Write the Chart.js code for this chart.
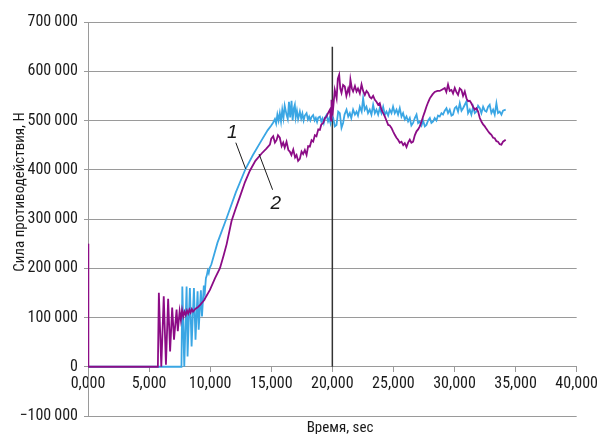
<!DOCTYPE html>
<html>
<head>
<meta charset="utf-8">
<script src="https://cdn.jsdelivr.net/npm/chart.js@4.4.1/dist/chart.umd.min.js"></script>
<style>
  html, body { margin: 0; padding: 0; background: #fff; }
</style>
</head>
<body>
<canvas id="chart" width="601" height="434"></canvas>
<script>
// Подписи осей
const xTickLabels = ['0,000', '5,000', '10,000', '15,000', '20,000', '25,000', '30,000', '35,000', '40,000'];
const yTickLabels = ['\u2212100\u2009000', '0', '100\u2009000', '200\u2009000', '300\u2009000', '400\u2009000', '500\u2009000', '600\u2009000', '700\u2009000'];

// Кривая 1 (голубая)
const time1 = [0, 7650, 7720, 7880, 8070, 8150, 8340, 8480, 8670, 8800, 8970, 9060, 9240, 9330, 9480, 9560, 9650, 9720, 9800, 9880, 9950,
  10100, 10600, 11350, 12100, 12900, 13500, 14070, 14700, 15000, 15160, 15300, 15400, 15500, 15600, 15700, 15800, 15900,
  16000, 16100, 16250, 16350, 16450, 16550, 16660, 16750, 16850, 16930, 17000, 17100, 17200, 17340, 17450, 17550, 17650, 17750, 17890,
  18000, 18100, 18200, 18300, 18430, 18550, 18650, 18750, 18850, 18980, 19100, 19200, 19300, 19400, 19520, 19650, 19750, 19850, 19950,
  20070, 20200, 20340, 20480, 20610, 20750, 20880, 21000, 21160, 21300, 21430, 21550, 21700, 21850, 21980, 22100, 22250, 22400, 22520,
  22650, 22790, 22920, 23060, 23200, 23340, 23480, 23610, 23750, 23880, 24020, 24160, 24300, 24430, 24570, 24700, 24840, 24970, 25110,
  25250, 25380, 25520, 25660, 25790, 25930, 26070, 26200, 26340, 26470, 26610, 26750, 26890, 27020, 27160, 27300, 27430, 27570, 27700,
  27840, 27980, 28110, 28250, 28380, 28520, 28650, 28790, 28930, 29060, 29200, 29340, 29470, 29610, 29750, 29880, 30020, 30150, 30290,
  30430, 30570, 30700, 30840, 30980, 31110, 31250, 31380, 31520, 31660, 31790, 31930, 32070, 32200, 32340, 32480, 32610, 32750, 32880,
  33020, 33160, 33290, 33430, 33560, 33700, 33840, 33970, 34190];
const force1 = [0, 0, 163000, 0, 163000, 21000, 160000, 41000, 160000, 55000, 153000, 75000, 155000, 102000, 165000, 150000, 180000, 185000, 195000, 190000, 200000,
  208000, 252000, 302000, 354000, 402000, 430000, 454000, 480000, 490000, 496000, 503000, 494000, 512000, 500000, 515000, 498000, 522000,
  505000, 530000, 512000, 503000, 538000, 506000, 540000, 500000, 525000, 532000, 506000, 520000, 503000, 518000, 504000, 514000, 500000, 510000, 515000,
  502000, 508000, 500000, 507000, 511000, 500000, 505000, 497000, 506000, 508000, 498000, 504000, 495000, 506000, 511000, 498000, 505000, 495000, 510000,
  505000, 488000, 491000, 518000, 515000, 485000, 495000, 512000, 522000, 508000, 515000, 505000, 522000, 512000, 518000, 510000, 528000, 518000, 545000,
  522000, 528000, 515000, 522000, 512000, 532000, 515000, 522000, 512000, 525000, 515000, 528000, 512000, 518000, 510000, 522000, 515000, 528000, 515000,
  522000, 512000, 525000, 508000, 515000, 502000, 508000, 498000, 505000, 490000, 495000, 505000, 512000, 495000, 498000, 490000, 500000, 488000, 491000,
  500000, 505000, 495000, 498000, 505000, 500000, 510000, 508000, 515000, 512000, 520000, 525000, 515000, 522000, 510000, 512000, 525000, 528000, 518000,
  535000, 520000, 525000, 532000, 539000, 515000, 522000, 512000, 528000, 515000, 518000, 530000, 525000, 515000, 528000, 520000, 518000, 528000, 532000,
  515000, 522000, 512000, 535000, 515000, 518000, 512000, 520000, 522000];

// Кривая 2 (фиолетовая)
const time2 = [0, 30, 5720, 5800, 6000, 6200, 6380, 6560, 6720, 6890, 7040, 7250, 7350, 7500, 7600, 7700, 7800, 7900, 8000, 8100, 8200, 8300, 8400, 8500, 8600, 8800,
  9000, 9200, 9500, 9980, 10400, 10800, 11100, 11350, 11750, 12100, 12430, 12850, 13250, 13700, 14210, 14600, 14890, 15000, 15160, 15300, 15430, 15550, 15700, 15850, 15980,
  16100, 16250, 16400, 16520, 16650, 16800, 16950, 17070, 17200, 17340, 17480, 17610, 17750, 17890, 18020, 18160, 18300, 18430, 18570, 18700, 18850, 18980,
  19100, 19250, 19400, 19520, 19650, 19800, 19900, 19930, 20050, 20200, 20350, 20450, 20560, 20650, 20750, 20880, 21020, 21150, 21300, 21400, 21480, 21600,
  21700, 21850, 21980, 22100, 22250, 22390, 22520, 22660, 22800, 22930, 23060, 23200, 23340, 23480, 23610, 23750, 23880, 24020, 24160, 24300, 24430, 24570,
  24700, 24840, 24970, 25110, 25250, 25380, 25520, 25660, 25800, 25930, 26070, 26200, 26340, 26470, 26610, 26750, 26890, 27020, 27160, 27300, 27430, 27570,
  27700, 27840, 27980, 28200, 28380, 28600, 28790, 29000, 29200, 29330, 29470, 29610, 29750, 29880, 30020, 30150, 30290, 30430, 30570, 30700, 30840, 30980,
  31110, 31250, 31380, 31520, 31660, 31790, 31930, 32070, 32200, 32340, 32480, 32610, 32750, 32880, 33020, 33160, 33290, 33430, 33560, 33700, 33840, 33970, 34190];
const force2 = [250000, 0, 0, 150000, 0, 143000, 4000, 138000, 31000, 120000, 55000, 116000, 72000, 113000, 95000, 115000, 102000, 112000, 105000, 114000, 108000, 116000, 110000, 117000, 112000, 118000,
  121000, 126000, 135000, 156000, 180000, 200000, 226000, 249000, 296000, 322000, 345000, 375000, 398000, 418000, 433000, 443000, 451000, 463000, 468000, 455000, 460000, 470000, 465000, 448000, 455000,
  445000, 457000, 440000, 437000, 430000, 441000, 425000, 430000, 418000, 422000, 437000, 432000, 440000, 430000, 448000, 447000, 460000, 457000, 470000, 468000, 482000, 481000,
  492000, 495000, 505000, 508000, 515000, 522000, 500000, 542000, 520000, 562000, 545000, 585000, 593000, 565000, 556000, 572000, 569000, 550000, 565000, 556000, 583000, 565000,
  559000, 570000, 559000, 565000, 555000, 573000, 560000, 552000, 560000, 556000, 548000, 545000, 550000, 542000, 538000, 532000, 535000, 522000, 515000, 508000, 500000, 491000,
  490000, 485000, 478000, 471000, 465000, 461000, 455000, 457000, 450000, 454000, 446000, 455000, 461000, 455000, 457000, 470000, 478000, 482000, 488000, 498000, 508000, 518000,
  528000, 537000, 545000, 553000, 558000, 560000, 560000, 563000, 566000, 558000, 573000, 560000, 562000, 555000, 566000, 558000, 552000, 565000, 562000, 550000, 559000, 545000,
  539000, 540000, 535000, 528000, 522000, 525000, 518000, 505000, 498000, 492000, 488000, 483000, 478000, 474000, 471000, 465000, 464000, 458000, 457000, 452000, 451000, 457000, 461000];

// Вертикальная отметка на 20 000
const markTime = [20000, 20000];
const markForce = [650000, 0];

const FONT = "'Liberation Sans Narrow', 'Roboto Condensed', 'Liberation Sans', sans-serif";
const GRID = '#9a9a9a';

function toPoints(xs, ys) {
    return xs.map((x, i) => ({ x: x, y: ys[i] }));
}

// подписи осей и выноски "1", "2"
const extrasPlugin = {
    id: 'extras',
    afterDraw(chart) {
        const { ctx, scales: { x, y } } = chart;
        ctx.save();
        ctx.fillStyle = '#1a1a1a';
        ctx.strokeStyle = '#1a1a1a';

        // выноски
        ctx.lineWidth = 1;
        const leaders = [[12100, 455000, 12900, 402000], [15109, 359400, 14000, 432000]];
        leaders.forEach(l => {
            ctx.beginPath();
            ctx.moveTo(x.getPixelForValue(l[0]), y.getPixelForValue(l[1]));
            ctx.lineTo(x.getPixelForValue(l[2]), y.getPixelForValue(l[3]));
            ctx.stroke();
        });
        ctx.font = "italic 19px 'Liberation Sans', sans-serif";
        ctx.textAlign = 'center';
        ctx.textBaseline = 'middle';
        ctx.fillText('1', x.getPixelForValue(11800), y.getPixelForValue(475000));
        ctx.fillText('2', x.getPixelForValue(15378), y.getPixelForValue(331000));

        // название оси X
        ctx.font = '15px ' + FONT;
        ctx.textBaseline = 'alphabetic';
        ctx.fillText('Время, sec', 340, 432);

        // название оси Y
        ctx.translate(24, 192);
        ctx.rotate(-Math.PI / 2);
        ctx.fillText('Сила противодействия, Н', 0, 0);
        ctx.restore();
    }
};

const ctx = document.getElementById('chart').getContext('2d');
const chart = new Chart(ctx, {
    type: 'line',
    data: {
        datasets: [
            {
                label: '2',
                data: toPoints(time2, force2),
                borderColor: '#8c0c86',
                borderWidth: 1.8,
                pointRadius: 0,
                tension: 0
            },
            {
                label: '1',
                data: toPoints(time1, force1),
                borderColor: '#3aa6e4',
                borderWidth: 1.8,
                pointRadius: 0,
                tension: 0
            },
            {
                label: 'mark',
                data: toPoints(markTime, markForce),
                borderColor: '#333333',
                borderWidth: 1.5,
                pointRadius: 0,
                tension: 0
            }
        ]
    },
    options: {
        responsive: false,
        animation: false,
        devicePixelRatio: 1,
        layout: { padding: { left: 0, top: 22, right: 24, bottom: 18 } },
        plugins: {
            legend: { display: false },
            tooltip: { enabled: false }
        },
        scales: {
            x: {
                type: 'linear',
                position: { y: 0 },
                min: 0,
                max: 40000,
                ticks: {
                    stepSize: 5000,
                    color: '#1a1a1a',
                    font: { family: FONT, size: 16 },
                    padding: 3,
                    maxRotation: 0,
                    callback: (v, i) => xTickLabels[i]
                },
                grid: {
                    drawOnChartArea: false,
                    drawTicks: true,
                    tickLength: 5,
                    color: GRID
                },
                border: { display: true, color: GRID }
            },
            y: {
                type: 'linear',
                min: -100000,
                max: 700000,
                afterFit: s => { s.width = 88; },
                ticks: {
                    stepSize: 100000,
                    color: '#1a1a1a',
                    font: { family: FONT, size: 16 },
                    padding: 6,
                    callback: (v, i) => yTickLabels[i]
                },
                grid: {
                    color: GRID,
                    tickLength: 4
                },
                border: { display: true, color: GRID }
            }
        }
    },
    plugins: [extrasPlugin]
});
</script>
</body>
</html>
